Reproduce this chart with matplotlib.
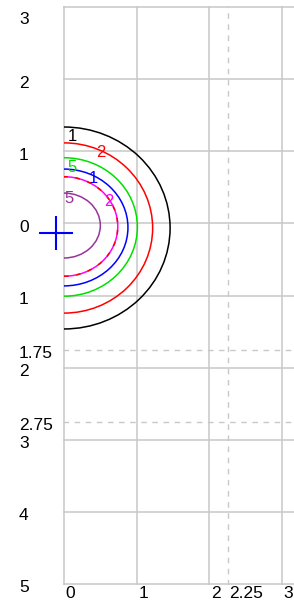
import matplotlib
matplotlib.use("Agg")
import matplotlib.pyplot as plt
from matplotlib.patches import Arc
from matplotlib import transforms

# grid / tick values
x_major = [0, 1, 2, 3]
x_minor = [2.25]
y_major = [3, 2, 1, 0, -1, -2, -3, -4, -5]
y_minor = [-1.75, -2.75]

# contour half-ellipses (right half)
contour_colors = ["black", "red", "#00e000", "blue", "#ff00ff", "#993399"]
contour_labels = ["1", "2", "5", "1", "2", "5"]
contour_cy = [-0.064, -0.064, -0.05, -0.057, -0.043, -0.03]
contour_rx = [1.46, 1.22, 1.01, 0.88, 0.74, 0.50]
contour_ry = [1.40, 1.18, 0.96, 0.81, 0.69, 0.45]
label_x = [0.11, 0.50, 0.11, 0.40, 0.61, 0.07]
label_y = [1.21, 0.98, 0.78, 0.62, 0.31, 0.34]

# marker (blue cross)
cross_x = -0.11
cross_y = -0.133

W, H = 294, 606
PX_X = 72.67
PX_Y = 72.1
xmin, xmax = -0.01, (W - 64) / PX_X
ymin, ymax = -5.01, 3.01

fig = plt.figure(figsize=(W / 100, H / 100), dpi=100)
left = (64 + xmin * PX_X) / W
top_px = 7 - (ymax - 3) * PX_Y
bot_px = 584 + (-5 - ymin) * PX_Y
ax = fig.add_axes([left, (H - bot_px) / H, 1 - left, (bot_px - top_px) / H])
ax.set_xlim(xmin, xmax)
ax.set_ylim(ymin, ymax)

for s in ax.spines.values():
    s.set_visible(False)
ax.set_xticks(x_major)
ax.set_xticks(x_minor, minor=True)
ax.set_yticks(y_major)
ax.set_yticks(y_minor, minor=True)
ax.tick_params(which="both", length=0, labelleft=False, labelbottom=False)
ax.grid(which="major", color="#c8c8c8", lw=1.1)
ax.grid(which="minor", color="#c8c8c8", lw=1.0, ls=(0, (4, 4)))
ax.set_axisbelow(True)

for i, c in enumerate(contour_colors):
    arc = Arc((0, contour_cy[i]), 2 * contour_rx[i], 2 * contour_ry[i],
              theta1=-90, theta2=90, color=c, lw=1.1)
    ax.add_patch(arc)
    if c == "#ff00ff":
        # magenta contour partly overlaps a red one
        ax.add_patch(Arc((0, contour_cy[i]), 2 * contour_rx[i], 2 * contour_ry[i],
                         theta1=-90, theta2=90, color="red", lw=1.1,
                         ls=(0, (3, 5)), zorder=3))
    ax.text(label_x[i], label_y[i], contour_labels[i], color=c,
            fontsize=12, family="Liberation Sans", ha="center", va="center")

ax.plot(cross_x, cross_y, marker="+", ms=25, mew=1.5, color="blue",
        clip_on=False, zorder=5)

# y labels: absolute values, left aligned at fixed x in figure
ytrans = transforms.blended_transform_factory(fig.transFigure, ax.transData)
for v in sorted(y_major + y_minor, reverse=True):
    txt = "{:g}".format(abs(v))
    dy = -12 if v == 3 else -4
    off = transforms.ScaledTranslation(0, dy / 100, fig.dpi_scale_trans)
    fig.text(19 / W, v, txt, transform=ytrans + off, fontsize=12.5,
             family="Liberation Sans", ha="left", va="center")

# x labels: left aligned just right of the grid line
xtrans = transforms.blended_transform_factory(ax.transData, fig.transFigure)
for v in sorted(x_major + x_minor):
    off = transforms.ScaledTranslation(1.5 / 100, 0, fig.dpi_scale_trans)
    fig.text(v, (H - 586) / H, "{:g}".format(v), transform=xtrans + off,
             fontsize=12.5, family="Liberation Sans", ha="left", va="top")

fig.savefig("out.png", dpi=100)
